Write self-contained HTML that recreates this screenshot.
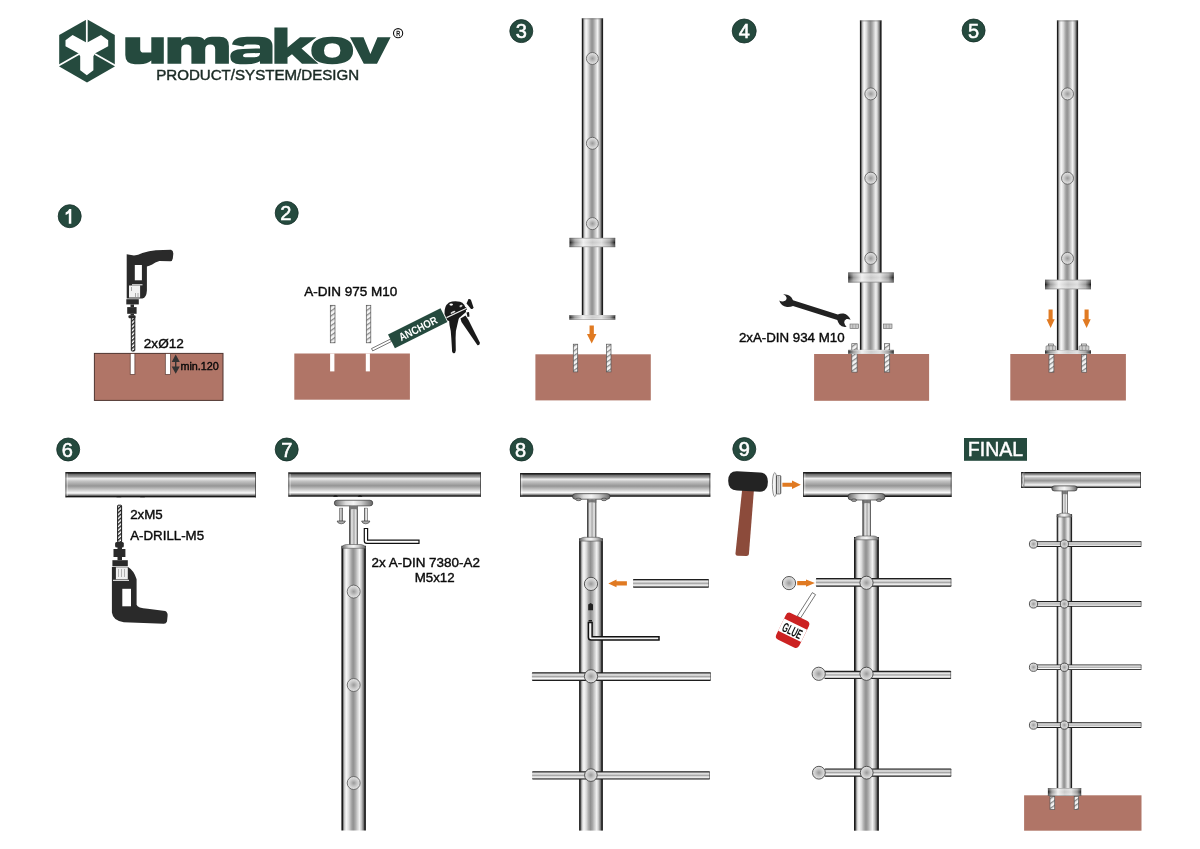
<!DOCTYPE html>
<html><head><meta charset="utf-8"><style>
html,body{margin:0;padding:0;background:#fff;width:1200px;height:849px;overflow:hidden}
svg{display:block;will-change:transform}
text{font-family:"Liberation Sans", sans-serif}
</style></head><body>
<svg width="1200" height="849" viewBox="0 0 1200 849" font-family='"Liberation Sans", sans-serif'>
<defs>
<linearGradient id="gv" x1="0" y1="0" x2="1" y2="0">
<stop offset="0" stop-color="#1a1a1a"/><stop offset="0.045" stop-color="#1a1a1a"/><stop offset="0.075" stop-color="#777"/>
<stop offset="0.13" stop-color="#d0d0d0"/><stop offset="0.2" stop-color="#f8f8f8"/><stop offset="0.3" stop-color="#dcdcdc"/>
<stop offset="0.4" stop-color="#aaa"/><stop offset="0.48" stop-color="#909090"/><stop offset="0.56" stop-color="#a6a6a6"/>
<stop offset="0.66" stop-color="#d2d2d2"/><stop offset="0.74" stop-color="#f2f2f2"/><stop offset="0.82" stop-color="#c4c4c4"/>
<stop offset="0.9" stop-color="#7a7a7a"/><stop offset="0.95" stop-color="#222"/><stop offset="1" stop-color="#1a1a1a"/>
</linearGradient>
<linearGradient id="gst" x1="0" y1="0" x2="1" y2="0">
<stop offset="0" stop-color="#333"/><stop offset="0.12" stop-color="#666"/><stop offset="0.3" stop-color="#eee"/>
<stop offset="0.55" stop-color="#aaa"/><stop offset="0.78" stop-color="#f0f0f0"/><stop offset="0.92" stop-color="#777"/><stop offset="1" stop-color="#333"/>
</linearGradient>
<linearGradient id="gh" x1="0" y1="0" x2="0" y2="1">
<stop offset="0" stop-color="#1a1a1a"/><stop offset="0.045" stop-color="#222"/><stop offset="0.1" stop-color="#707070"/>
<stop offset="0.18" stop-color="#9a9a9a"/><stop offset="0.26" stop-color="#eee"/><stop offset="0.36" stop-color="#c4c4c4"/>
<stop offset="0.55" stop-color="#959595"/><stop offset="0.71" stop-color="#cdcdcd"/><stop offset="0.83" stop-color="#fcfcfc"/>
<stop offset="0.91" stop-color="#888"/><stop offset="0.965" stop-color="#151515"/><stop offset="1" stop-color="#222"/>
</linearGradient>
<linearGradient id="gr" x1="0" y1="0" x2="0" y2="1">
<stop offset="0" stop-color="#1a1a1a"/><stop offset="0.09" stop-color="#222"/><stop offset="0.17" stop-color="#a0a0a0"/>
<stop offset="0.3" stop-color="#eee"/><stop offset="0.5" stop-color="#a4a4a4"/><stop offset="0.72" stop-color="#fafafa"/>
<stop offset="0.83" stop-color="#bbb"/><stop offset="0.91" stop-color="#222"/><stop offset="1" stop-color="#1a1a1a"/>
</linearGradient>
<linearGradient id="gf" x1="0" y1="0" x2="1" y2="0">
<stop offset="0" stop-color="#111"/><stop offset="0.04" stop-color="#444"/><stop offset="0.12" stop-color="#999"/>
<stop offset="0.3" stop-color="#eee"/><stop offset="0.5" stop-color="#c8c8c8"/><stop offset="0.7" stop-color="#ddd"/>
<stop offset="0.88" stop-color="#999"/><stop offset="0.96" stop-color="#444"/><stop offset="1" stop-color="#111"/>
</linearGradient>
<linearGradient id="gft" x1="0" y1="0" x2="0" y2="1">
<stop offset="0" stop-color="#555" stop-opacity="0.7"/><stop offset="0.15" stop-color="#fff" stop-opacity="0.3"/>
<stop offset="0.5" stop-color="#fff" stop-opacity="0"/><stop offset="0.85" stop-color="#fff" stop-opacity="0.3"/><stop offset="1" stop-color="#555" stop-opacity="0.7"/>
</linearGradient>
<linearGradient id="gsd" x1="0" y1="0" x2="1" y2="0">
<stop offset="0" stop-color="#666"/><stop offset="0.3" stop-color="#ddd"/><stop offset="0.5" stop-color="#f4f4f4"/>
<stop offset="0.7" stop-color="#ccc"/><stop offset="1" stop-color="#666"/>
</linearGradient>
<radialGradient id="gk" cx="0.5" cy="0.5" r="0.5">
<stop offset="0" stop-color="#999"/><stop offset="0.5" stop-color="#c4c4c4"/><stop offset="1" stop-color="#e6e6e6"/>
</radialGradient>
<pattern id="twist" patternUnits="userSpaceOnUse" width="3" height="3" patternTransform="rotate(-40)">
<rect width="3" height="3" fill="#fff"/><rect width="3" height="1.4" fill="#1a1a1a"/>
</pattern>
<pattern id="hatch" patternUnits="userSpaceOnUse" width="4" height="4" patternTransform="rotate(-35)">
<rect width="4" height="4" fill="#f4f4f4"/><rect width="4" height="1.3" fill="#8a8a8a"/>
</pattern>
</defs>
<rect width="1200" height="849" fill="#fff"/>

<g fill="#254a3e">
<polygon points="87,19.2 114.8,35 114.8,66.6 87,82.5 59.2,66.6 59.2,35"/>
</g>
<g fill="#fff">
<polygon points="72.6,35 65.5,40.2 65.5,46.3 78.3,53.3 80.2,56.2 80.2,70.3 86.8,75.2 93.4,70.3 93.4,56.2 95.3,53.3 108.2,46.3 108.2,40.2 101,35 86.8,42.8"/>
</g>
<g stroke="#fff" stroke-width="1.8">
<line x1="86.8" y1="17" x2="86.8" y2="43"/>
<line x1="57" y1="66.5" x2="79" y2="54"/>
<line x1="117" y1="66.5" x2="95" y2="54"/>
</g>
<g fill="#254a3e">
<path d="M125.3,37.2 H140.2 V49.5 Q140.2,52.6 143.5,52.6 H151.3 V37.2 H163.8 V63.8 H151.3 V60.5 Q147.5,64.2 139.5,64.2 H135 Q125.3,64.2 125.3,55 Z"/>
<path d="M167.5,63.8 V37.2 H181.25 V40.5 Q184,36.8 189,36.8 H197 Q202,36.8 204.5,40 Q207,36.8 212,36.8 H219.5 Q228.9,36.8 228.9,46 V63.8 H215.2 V49.5 Q215.2,44.4 210.2,44.4 Q205.2,44.4 205.2,49.5 V63.8 H191.4 V49.5 Q191.4,44.4 186.3,44.4 Q181.25,44.4 181.25,49.5 V63.8 Z"/>
<path d="M232,44.5 Q233.5,36.8 247,36.8 H259 Q272.5,36.8 272.5,46 V63.8 H260 V61.2 Q255.5,64.2 246,64.2 H240 Q230.3,64.2 230.3,56.5 Q230.3,49.2 243,49 L260,48.4 V46.8 Q260,44.4 255,44.4 H247 Q244,44.4 243.5,46.4 Z M243,56 Q243,57.3 247,57.3 H253 Q260,57.3 260,53.5 V53 L247.5,53.3 Q243,53.5 243,56 Z"/>
<path d="M274.4,27.6 H287.5 V47.5 L300,37.2 H316.5 L301.5,48.6 L318.5,63.8 H302 L292,54.3 L287.5,57.6 V63.8 H274.4 Z"/>
<path d="M332.2,36.8 Q311.3,36.8 311.3,50.5 Q311.3,64.2 332.2,64.2 Q353.1,64.2 353.1,50.5 Q353.1,36.8 332.2,36.8 Z M332.2,43.3 Q324,43.3 324,50.5 Q324,57.7 332.2,57.7 Q340.4,57.7 340.4,50.5 Q340.4,43.3 332.2,43.3 Z" fill-rule="evenodd"/>
<path d="M350,37.2 H363.5 L370.4,54 L377.5,37.2 H390.6 L377,63.8 H363.8 Z"/>
</g>
<circle cx="398.1" cy="33.2" r="4.6" fill="none" stroke="#111" stroke-width="1.1"/>
<text x="398.2" y="36.1" font-size="8" fill="#111" stroke="#111" stroke-width="0.35" text-anchor="middle" textLength="4" lengthAdjust="spacingAndGlyphs">R</text>
<text x="156.2" y="80.2" font-size="15" font-weight="normal" fill="#1a2a24" stroke="#1a2a24" stroke-width="0.45" text-anchor="start" textLength="203" lengthAdjust="spacingAndGlyphs">PRODUCT/SYSTEM/DESIGN</text>
<circle cx="69.7" cy="216.2" r="11.5" fill="#254a3e" stroke="#16302a" stroke-width="0.8"/>
<path d="M71.3,208.9 V223.8 H68.8 V213.3 Q67.4,214.4 65.6,214.9 V212.5 Q68.2,211.5 69.2,208.9 Z" fill="#fff"/>
<circle cx="286.7" cy="213" r="11.5" fill="#254a3e" stroke="#16302a" stroke-width="0.8"/>
<text x="285.9" y="220.1" font-size="20" fill="#fff" stroke="#fff" stroke-width="0.55" text-anchor="middle">2</text>
<circle cx="521.3" cy="31.1" r="11.5" fill="#254a3e" stroke="#16302a" stroke-width="0.8"/>
<text x="521.3" y="38.2" font-size="20" fill="#fff" stroke="#fff" stroke-width="0.55" text-anchor="middle">3</text>
<circle cx="744.2" cy="31" r="12" fill="#254a3e" stroke="#16302a" stroke-width="0.8"/>
<text x="744.2" y="38.1" font-size="20" fill="#fff" stroke="#fff" stroke-width="0.55" text-anchor="middle">4</text>
<circle cx="973.6" cy="30.5" r="11.5" fill="#254a3e" stroke="#16302a" stroke-width="0.8"/>
<text x="973.6" y="37.6" font-size="20" fill="#fff" stroke="#fff" stroke-width="0.55" text-anchor="middle">5</text>
<circle cx="68.2" cy="449.5" r="11.5" fill="#254a3e" stroke="#16302a" stroke-width="0.8"/>
<text x="67.2" y="456.6" font-size="20" fill="#fff" stroke="#fff" stroke-width="0.55" text-anchor="middle">6</text>
<circle cx="286.7" cy="449.5" r="11.5" fill="#254a3e" stroke="#16302a" stroke-width="0.8"/>
<text x="286.7" y="456.6" font-size="20" fill="#fff" stroke="#fff" stroke-width="0.55" text-anchor="middle">7</text>
<circle cx="521.5" cy="449.5" r="11.5" fill="#254a3e" stroke="#16302a" stroke-width="0.8"/>
<text x="520.5" y="456.6" font-size="20" fill="#fff" stroke="#fff" stroke-width="0.55" text-anchor="middle">8</text>
<circle cx="744.3" cy="449.1" r="11.5" fill="#254a3e" stroke="#16302a" stroke-width="0.8"/>
<text x="744.3" y="456.20000000000005" font-size="20" fill="#fff" stroke="#fff" stroke-width="0.55" text-anchor="middle">9</text>
<rect x="964" y="438" width="63" height="22.8" fill="#254a3e"/>
<text x="995.5" y="456.2" font-size="19.5" font-weight="normal" fill="#fff" stroke="#fff" stroke-width="0.45" text-anchor="middle" >FINAL</text>
<rect x="94.4" y="353.4" width="128.60" height="47.00" fill="#b07567" stroke="#4e3530" stroke-width="1"/>
<rect x="130.2" y="353.6" width="4.70" height="20.8" fill="#fff" stroke="#5a3a33" stroke-width="0.7"/>
<rect x="165.3" y="353.6" width="5.20" height="20.8" fill="#fff" stroke="#5a3a33" stroke-width="0.7"/>
<path d="M175.7,354.6 L179.8,362 H171.7 Z M175.7,373.8 L179.8,366.4 H171.7 Z" fill="#333"/>
<rect x="175" y="361" width="1.4" height="6.5" fill="#333"/>
<text x="180.4" y="369.8" font-size="10.8" font-weight="normal" fill="#0a0a0a" stroke="#0a0a0a" stroke-width="0.4" text-anchor="start" >min.120</text>
<text x="143.8" y="348" font-size="13.6" font-weight="normal" fill="#0a0a0a" stroke="#0a0a0a" stroke-width="0.4" text-anchor="start" >2xØ12</text>
<g fill="#2a2a2a">
<path d="M126.7,254.3 L134,255.5 Q138,255 142.4,253 Q149,251 155.8,250.3 L171,249.8 Q173.5,250.5 173.3,254 L172.8,258.5 Q172.3,261.5 170,261.2 L159.4,261 Q155,262 152.2,264.6 Q149,266 146.9,266.4 V290.6 Q146.5,297.7 142.4,298.6 H126.7 Z"/>
<rect x="126.3" y="299.2" width="12.5" height="5.2"/>
<rect x="130.5" y="304.4" width="3.5" height="2.7"/>
<rect x="127.2" y="307.1" width="9.4" height="6.7"/>
<rect x="130.5" y="313.8" width="3.5" height="1.8"/>
</g>
<rect x="134.8" y="265" width="7.1" height="15.3" fill="#fff"/>
<rect x="129" y="285.5" width="11.1" height="12" fill="#f2f2f2"/>
<rect x="132" y="284.3" width="10.5" height="1" fill="#fff"/>
<path d="M131.5,287 V291 M135.5,293 V297 M138,293 V297" stroke="#777" stroke-width="0.6"/>
<rect x="131.3" y="316.5" width="3.5" height="34.5" rx="0.8" fill="url(#twist)" stroke="#1a1a1a" stroke-width="1"/>
<rect x="128.5" y="315.3" width="7" height="3" rx="1" fill="#2a2a2a"/>
<rect x="294.3" y="353.5" width="115.60" height="46.20" fill="#b07567"/>
<rect x="330.1" y="353.5" width="4.30" height="17.9" fill="#fff"/>
<rect x="365.8" y="353.5" width="4.10" height="17.9" fill="#fff"/>
<rect x="330.3" y="305.3" width="4.70" height="37.50" fill="url(#hatch)" stroke="#555" stroke-width="0.7"/>
<rect x="366.3" y="305.3" width="4.50" height="37.50" fill="url(#hatch)" stroke="#555" stroke-width="0.7"/>
<text x="304.3" y="296" font-size="13.5" font-weight="normal" fill="#0a0a0a" stroke="#0a0a0a" stroke-width="0.4" text-anchor="start" >A-DIN 975 M10</text>
<g transform="translate(388,334.5) rotate(-26.6)">
<rect x="-21" y="5.2" width="21" height="2.6" fill="#fff" stroke="#333" stroke-width="0.6"/>
<rect x="0" y="0" width="58.7" height="15.4" fill="#254a3e"/>
<text x="29.5" y="12" font-size="11" font-weight="bold" fill="#fff" text-anchor="middle" textLength="41.5" lengthAdjust="spacingAndGlyphs">ANCHOR</text>
</g>
<g fill="#1a1a1a">
<path d="M444.5,314 Q444,306 449,302.5 Q454,300.5 460,301.8 Q465,303.5 465.8,309 L466,312 L458,319 Q452,322 447.5,320.5 Z"/>
<path d="M466.5,303.5 L468.5,299 Q470,298.5 471,300 L473.5,307.5 Q473,309.5 471,309 Z"/>
<path d="M449,319.5 L459,317.5 L457.5,324 Q455.5,330 455.6,338 L455.8,350.5 Q455.5,353.5 453.5,353.2 Q451.8,352.8 452,349.5 L451.3,338 Q451,330 449.5,325 Z"/>
<path d="M460.5,318.5 L465.5,315.5 L468.5,320 L479.8,342.5 Q480,345.5 477.5,345.2 L461.5,322 Z"/>
<path d="M466.5,312.5 L469,312 L469.5,316.5 L467.5,317 Z"/>
</g>
<ellipse cx="451.2" cy="304.6" rx="1.8" ry="1.1" fill="#fff"/>
<ellipse cx="453" cy="312.5" rx="2.6" ry="1.2" fill="#ddd" transform="rotate(-25 453 312.5)"/>
<ellipse cx="461" cy="306" rx="1.6" ry="1" fill="#ccc" transform="rotate(-25 461 306)"/>
<path d="M446.5,317.6 L466.5,308.2" stroke="#111" stroke-width="2.6"/>
<path d="M446.5,317.6 L466.5,308.2" stroke="#e8e8e8" stroke-width="1.2"/>
<rect x="581.8" y="18.3" width="21.30" height="296.70" fill="url(#gv)"/>
<rect x="581.8" y="18.3" width="21.3" height="1" fill="#666" opacity="0.6"/>
<circle cx="592.4" cy="58.5" r="6" fill="url(#gk)" stroke="#555" stroke-width="0.8"/>
<circle cx="592.4" cy="143.3" r="6" fill="url(#gk)" stroke="#555" stroke-width="0.8"/>
<circle cx="592.4" cy="223.6" r="6" fill="url(#gk)" stroke="#555" stroke-width="0.8"/>
<rect x="569.5" y="237.9" width="45.70" height="9.20" fill="url(#gf)"/>
<rect x="569.5" y="237.9" width="45.70" height="9.20" fill="url(#gft)"/>
<rect x="569.3" y="315" width="46.00" height="4.50" fill="url(#gf)"/>
<rect x="569.3" y="315" width="46.00" height="4.50" fill="url(#gft)"/>
<path d="M589.5500000000001,325.5 H593.85 V334 H596.45 L591.7,343.5 L586.95,334 H589.5500000000001 Z" fill="#e07a22"/>
<rect x="535.4" y="354.3" width="115.40" height="46.10" fill="#b07567"/>
<rect x="573.3" y="344.2" width="4.40" height="27.70" fill="url(#hatch)" stroke="#555" stroke-width="0.7"/>
<rect x="606.5" y="344.2" width="4.50" height="27.70" fill="url(#hatch)" stroke="#555" stroke-width="0.7"/>
<rect x="859.9" y="20.4" width="21.70" height="329.50" fill="url(#gv)"/>
<rect x="859.9" y="20.4" width="21.7" height="1" fill="#666" opacity="0.6"/>
<circle cx="870.8" cy="93.9" r="6" fill="url(#gk)" stroke="#555" stroke-width="0.8"/>
<circle cx="870.8" cy="178.2" r="6" fill="url(#gk)" stroke="#555" stroke-width="0.8"/>
<circle cx="870.8" cy="258.4" r="6" fill="url(#gk)" stroke="#555" stroke-width="0.8"/>
<rect x="848.2" y="272.6" width="45.60" height="9.80" fill="url(#gf)"/>
<rect x="848.2" y="272.6" width="45.60" height="9.80" fill="url(#gft)"/>
<rect x="814.1" y="354" width="115.00" height="46.80" fill="#b07567"/>
<rect x="851.8" y="343.7" width="5.30" height="28.40" fill="url(#hatch)" stroke="#555" stroke-width="0.7"/>
<rect x="884.4" y="343.7" width="5.30" height="28.40" fill="url(#hatch)" stroke="#555" stroke-width="0.7"/>
<rect x="848.2" y="349.9" width="45.60" height="4.10" fill="url(#gf)"/>
<rect x="848.2" y="349.9" width="45.60" height="4.10" fill="url(#gft)"/>
<rect x="850" y="324" width="8.6" height="4.6" fill="#ccc" stroke="#666" stroke-width="0.6"/>
<path d="M852.8,324.3 V328.3 M855.8,324.3 V328.3" stroke="#888" stroke-width="0.6"/>
<rect x="883.4" y="324" width="8.6" height="4.6" fill="#ccc" stroke="#666" stroke-width="0.6"/>
<path d="M886.1999999999999,324.3 V328.3 M889.1999999999999,324.3 V328.3" stroke="#888" stroke-width="0.6"/>
<text x="738.9" y="341.8" font-size="13.3" font-weight="normal" fill="#0a0a0a" stroke="#0a0a0a" stroke-width="0.4" text-anchor="start" >2xA-DIN 934 M10</text>
<path d="M783.2,294.3 Q788.5,294.2 791.5,297.5 L793,300.3 L837.8,314.6 Q840.5,313.2 843.6,313.6 Q848.5,314.8 850.6,319.8 Q848.5,318.6 846.5,319 Q844,320 844.2,322.5 Q844.6,325 846.6,326.8 Q841.8,327.5 839.5,324.5 Q838,322.5 837.3,319.9 L793,305.9 Q790.5,307.2 787,307 Q781,306.3 779.2,300.6 Q781.5,301.8 783.8,301.3 Q786.8,300.3 786.6,297.8 Q786.2,295.5 783.2,294.3 Z" fill="#222"/>
<rect x="1056.9" y="20.4" width="21.20" height="329.80" fill="url(#gv)"/>
<rect x="1056.9" y="20.4" width="21.2" height="1" fill="#666" opacity="0.6"/>
<circle cx="1067.5" cy="93.9" r="6" fill="url(#gk)" stroke="#555" stroke-width="0.8"/>
<circle cx="1067.5" cy="178.2" r="6" fill="url(#gk)" stroke="#555" stroke-width="0.8"/>
<circle cx="1067.5" cy="258.4" r="6" fill="url(#gk)" stroke="#555" stroke-width="0.8"/>
<rect x="1045" y="279.8" width="46.00" height="9.40" fill="url(#gf)"/>
<rect x="1045" y="279.8" width="46.00" height="9.40" fill="url(#gft)"/>
<path d="M1048.55,309.5 H1052.6499999999999 V319.2 H1054.6999999999998 L1050.6,328 L1046.5,319.2 H1048.55 Z" fill="#e07a22"/>
<path d="M1084.55,309.5 H1088.6499999999999 V319.2 H1090.6999999999998 L1086.6,328 L1082.5,319.2 H1084.55 Z" fill="#e07a22"/>
<rect x="1010.3" y="354" width="115.60" height="46.50" fill="#b07567"/>
<rect x="1045" y="350.2" width="46.00" height="3.80" fill="url(#gf)"/>
<rect x="1045" y="350.2" width="46.00" height="3.80" fill="url(#gft)"/>
<rect x="1049" y="354.6" width="4.90" height="17.60" fill="url(#hatch)" stroke="#555" stroke-width="0.7"/>
<rect x="1081.7" y="354.6" width="4.90" height="17.60" fill="url(#hatch)" stroke="#555" stroke-width="0.7"/>
<rect x="1048.4" y="344" width="5" height="2" fill="#eee" stroke="#444" stroke-width="0.6"/>
<rect x="1046.0" y="345.8" width="9.8" height="4.6" rx="1" fill="#cfcfcf" stroke="#666" stroke-width="0.6"/>
<path d="M1049.1000000000001,346 V350.2 M1052.7,346 V350.2" stroke="#777" stroke-width="0.6"/>
<rect x="1081.5" y="344" width="5" height="2" fill="#eee" stroke="#444" stroke-width="0.6"/>
<rect x="1079.1" y="345.8" width="9.8" height="4.6" rx="1" fill="#cfcfcf" stroke="#666" stroke-width="0.6"/>
<path d="M1082.2,346 V350.2 M1085.8,346 V350.2" stroke="#777" stroke-width="0.6"/>
<rect x="65.5" y="472" width="190.40" height="25.40" fill="url(#gh)"/>
<rect x="65.5" y="472" width="0.9" height="25.40" fill="#333" opacity="0.8"/>
<rect x="66.4" y="473.5" width="1.6" height="22.40" fill="#fff" opacity="0.35"/>
<rect x="255.0" y="472" width="0.9" height="25.40" fill="#333" opacity="0.8"/>
<path d="M116.4,497.3 Q118.9,494.5 121.4,497.3 Z" fill="#111"/>
<path d="M140.0,497.3 Q142.5,494.5 145.0,497.3 Z" fill="#111"/>
<text x="130.2" y="518.8" font-size="13.3" font-weight="normal" fill="#0a0a0a" stroke="#0a0a0a" stroke-width="0.4" text-anchor="start" >2xM5</text>
<text x="130.2" y="540.3" font-size="13.3" font-weight="normal" fill="#0a0a0a" stroke="#0a0a0a" stroke-width="0.4" text-anchor="start" >A-DRILL-M5</text>
<rect x="117.6" y="505.2" width="4" height="37" rx="0.8" fill="url(#twist)" stroke="#1a1a1a" stroke-width="1"/>
<g fill="#2a2a2a">
<rect x="115.1" y="541.9" width="8.7" height="5.6" rx="1.5"/>
<rect x="117.5" y="547" width="4.5" height="2.5"/>
<rect x="113.5" y="549" width="11.9" height="8"/>
<rect x="117.5" y="557" width="4.5" height="3.2"/>
<rect x="112.4" y="560.2" width="15.4" height="6.1"/>
<path d="M111.9,567 H128 Q134,570.5 136.6,579.3 V604.7 Q137.5,608 147.7,608.7 L165.2,611 Q168,612.5 167.6,615.8 L167,621.5 Q166,624 163.6,623.8 L123.8,622.2 Q113,621 111.9,612.6 Z"/>
</g>
<rect x="122.3" y="588.8" width="8.7" height="17.5" fill="#fff"/>
<rect x="115.9" y="567.3" width="11.9" height="12" fill="#f0f0f0"/>
<rect x="113" y="579.8" width="16" height="1" fill="#fff"/>
<path d="M118.5,569 V577 M121.5,569 V577 M124.5,569 V577" stroke="#888" stroke-width="0.6"/>
<rect x="288.4" y="472.3" width="192.50" height="24.45" fill="url(#gh)"/>
<rect x="288.4" y="472.3" width="0.9" height="24.45" fill="#333" opacity="0.8"/>
<rect x="289.29999999999995" y="473.8" width="1.6" height="21.45" fill="#fff" opacity="0.35"/>
<rect x="480.0" y="472.3" width="0.9" height="24.45" fill="#333" opacity="0.8"/>
<path d="M333.0,496.7 Q335.5,494 338.0,496.7 Z" fill="#111"/>
<path d="M357.5,496.7 Q360,494 362.5,496.7 Z" fill="#111"/>
<rect x="334.3" y="500.25" width="38.45" height="5.60" rx="2.80" fill="url(#gsd)" stroke="#333" stroke-width="0.7"/>
<rect x="349.1" y="505.9" width="8.80" height="39.85" fill="url(#gst)"/>
<path d="M349.1,505.9 H357.9 V509.4 Q353.5,508.5 349.1,509.4 Z" fill="#6a6a6a" opacity="0.85"/>
<rect x="341.4" y="545.75" width="24.50" height="284.75" fill="url(#gv)"/>
<path d="M341.7,548.3 Q341.9,545.1 346.4,544.5 H360.9 Q365.4,545.1 365.59999999999997,548.3 Z" fill="url(#gsd)" stroke="#555" stroke-width="0.6"/>
<circle cx="353.7" cy="591.6" r="6.5" fill="url(#gk)" stroke="#555" stroke-width="0.8"/>
<circle cx="353.7" cy="685" r="6.5" fill="url(#gk)" stroke="#555" stroke-width="0.8"/>
<circle cx="353.7" cy="783" r="6.5" fill="url(#gk)" stroke="#555" stroke-width="0.8"/>
<rect x="339.75" y="508.1" width="3" height="13" fill="url(#gst)" stroke="#555" stroke-width="0.5"/>
<path d="M337.05,521 H345.45 Q344.75,523.8 341.25,523.8 Q337.75,523.8 337.05,521 Z" fill="#aaa" stroke="#333" stroke-width="0.6"/>
<rect x="364.25" y="508.1" width="3" height="13" fill="url(#gst)" stroke="#555" stroke-width="0.5"/>
<path d="M361.55,521 H369.95 Q369.25,523.8 365.75,523.8 Q362.25,523.8 361.55,521 Z" fill="#aaa" stroke="#333" stroke-width="0.6"/>
<path d="M349.3,505.9 H357.9 V509.5 Q356,508.6 353.6,508.6 Q351.2,508.6 349.3,509.5 Z" fill="#777"/>
<path d="M364.3,528.5 H367.6 V540.1 H419 V543.4 H366.8 Q364.3,543.4 364.3,541 Z" fill="#fff" stroke="#111" stroke-width="1.2"/>
<text x="371.6" y="566.75" font-size="13.45" font-weight="normal" fill="#0a0a0a" stroke="#0a0a0a" stroke-width="0.4" text-anchor="start" >2x A-DIN 7380-A2</text>
<text x="414.75" y="581.6" font-size="13.3" font-weight="normal" fill="#0a0a0a" stroke="#0a0a0a" stroke-width="0.4" text-anchor="start" >M5x12</text>
<rect x="520" y="473" width="190.30" height="23.80" fill="url(#gh)"/>
<rect x="520" y="473" width="0.9" height="23.80" fill="#333" opacity="0.8"/>
<rect x="520.9" y="474.5" width="1.6" height="20.80" fill="#fff" opacity="0.35"/>
<rect x="709.4" y="473" width="0.9" height="23.80" fill="#333" opacity="0.8"/>
<rect x="572.5" y="493.7" width="37.50" height="5.50" rx="2.75" fill="url(#gsd)" stroke="#333" stroke-width="0.7"/>
<ellipse cx="578.5" cy="499.4" rx="2.7" ry="1.3" fill="#999" stroke="#333" stroke-width="0.6"/>
<ellipse cx="604" cy="499.4" rx="2.7" ry="1.3" fill="#999" stroke="#333" stroke-width="0.6"/>
<rect x="587" y="499.2" width="9.30" height="39.10" fill="url(#gst)"/>
<path d="M587,499.2 H596.3 V502.7 Q591.65,501.8 587,502.7 Z" fill="#6a6a6a" opacity="0.85"/>
<rect x="579.1" y="538.3" width="23.80" height="292.30" fill="url(#gv)"/>
<path d="M579.4,541.0999999999999 Q579.6,537.9 584.1,537.3 H597.9 Q602.4,537.9 602.6,541.0999999999999 Z" fill="url(#gsd)" stroke="#555" stroke-width="0.6"/>
<circle cx="591" cy="583.9" r="6.6" fill="url(#gk)" stroke="#444" stroke-width="0.9"/>
<path d="M626.9,581.3 H616.5 V579.55 L608.3,583.4 L616.5,587.25 V585.5 H626.9 Z" fill="#e07a22"/>
<rect x="633" y="579" width="75.90" height="8.70" rx="0.8" fill="url(#gr)"/>
<rect x="708.1" y="579.5" width="0.8" height="7.70" fill="#444" opacity="0.7"/>
<path d="M588.2,610.3 V604.5 L590.6,602.9 L593,604.5 V610.3 Z" fill="#222"/>
<path d="M588.4,622.6 H592.1 V636.7 H659 V640.1 H591.2 Q588.4,640.1 588.4,637.3 Z" fill="#f2f2f2" stroke="#111" stroke-width="1.5"/>
<rect x="588.6" y="620.1" width="3.4" height="1.3" fill="#111"/>
<rect x="531.9" y="672.2" width="179.00" height="8.70" rx="0.8" fill="url(#gr)"/>
<rect x="710.1" y="672.7" width="0.8" height="7.70" fill="#444" opacity="0.7"/>
<circle cx="591" cy="676.3" r="6.6" fill="url(#gk)" stroke="#444" stroke-width="0.9"/>
<rect x="532.1" y="771.2" width="177.80" height="8.40" rx="0.8" fill="url(#gr)"/>
<rect x="709.1" y="771.7" width="0.8" height="7.40" fill="#444" opacity="0.7"/>
<circle cx="590.9" cy="775.1" r="6.3" fill="url(#gk)" stroke="#444" stroke-width="0.9"/>
<rect x="803" y="472" width="148.60" height="25.00" fill="url(#gh)"/>
<rect x="803" y="472" width="0.9" height="25.00" fill="#333" opacity="0.8"/>
<rect x="803.9" y="473.5" width="1.6" height="22.00" fill="#fff" opacity="0.35"/>
<rect x="950.7" y="472" width="0.9" height="25.00" fill="#333" opacity="0.8"/>
<rect x="848" y="493.6" width="37.00" height="6.40" rx="3.20" fill="url(#gsd)" stroke="#333" stroke-width="0.7"/>
<ellipse cx="854" cy="500.2" rx="2.7" ry="1.3" fill="#999" stroke="#333" stroke-width="0.6"/>
<ellipse cx="879" cy="500.2" rx="2.7" ry="1.3" fill="#999" stroke="#333" stroke-width="0.6"/>
<rect x="862.4" y="500" width="8.60" height="37.00" fill="url(#gst)"/>
<path d="M862.4,500 H871 V503.5 Q866.7,502.6 862.4,503.5 Z" fill="#6a6a6a" opacity="0.85"/>
<rect x="854" y="537" width="24.90" height="293.70" fill="url(#gv)"/>
<path d="M854.3,539.8 Q854.5,536.6 859,536 H873.9 Q878.4,536.6 878.6,539.8 Z" fill="url(#gsd)" stroke="#555" stroke-width="0.6"/>
<path d="M742.1,490 L753.9,490.5 L748.9,554.3 Q748.6,556 746.5,556 L737.5,555.8 Q735.3,555.5 735.5,553.3 Z" fill="#8c4b3b"/>
<path d="M737,471.2 L760,472.4 Q768,472.9 767.9,481.8 Q767.8,491.6 760,491.8 L737,490.6 Q728,490 728.2,480.6 Q728.4,471 737,471.2 Z" fill="#232323"/>
<ellipse cx="774.8" cy="484.6" rx="2.4" ry="12" fill="#f4f4f4" stroke="#777" stroke-width="0.8"/>
<rect x="776.3" y="475.5" width="4.6" height="18.5" rx="1" fill="url(#gst)" stroke="#444" stroke-width="0.6"/>
<path d="M782.4,482.85 H792 V480.6 L800.8,484.8 L792,489.0 V486.75 H782.4 Z" fill="#e07a22"/>
<rect x="815.9" y="578.1" width="135.50" height="8.60" rx="0.8" fill="url(#gr)"/>
<rect x="950.6" y="578.6" width="0.8" height="7.60" fill="#444" opacity="0.7"/>
<circle cx="866.5" cy="582.8" r="6.6" fill="url(#gk)" stroke="#444" stroke-width="0.9"/>
<circle cx="789" cy="583.1" r="6.6" fill="url(#gk)" stroke="#444" stroke-width="0.9"/>
<path d="M797.2,581.0 H806 V579.4 L814.9,583.1 L806,586.8000000000001 V585.2 H797.2 Z" fill="#e07a22"/>
<g transform="translate(792.6,630.3) rotate(26)">
<path d="M-2,-14.6 L1.2,-42.5 L5,-42.1 L1.8,-14.6 Z" fill="#fff" stroke="#333" stroke-width="0.6"/>
<rect x="-12.8" y="-14.8" width="25.6" height="29.6" rx="4" fill="#cc2222"/>
<rect x="-12.8" y="-6.8" width="25.6" height="13.6" fill="#fff"/>
<text x="0" y="5.2" font-size="13.5" font-weight="bold" fill="#111" text-anchor="middle" textLength="20.5" lengthAdjust="spacingAndGlyphs">GLUE</text>
</g>
<rect x="824.4" y="670.8" width="126.70" height="8.30" rx="0.8" fill="url(#gr)"/>
<rect x="950.3000000000001" y="671.3" width="0.8" height="7.30" fill="#444" opacity="0.7"/>
<circle cx="818.7" cy="673.8" r="6.6" fill="url(#gk)" stroke="#444" stroke-width="0.9"/>
<circle cx="866.5" cy="673.8" r="6.6" fill="url(#gk)" stroke="#444" stroke-width="0.9"/>
<rect x="824.7" y="768.4" width="126.60" height="8.30" rx="0.8" fill="url(#gr)"/>
<rect x="950.5" y="768.9" width="0.8" height="7.30" fill="#444" opacity="0.7"/>
<circle cx="818.9" cy="772.7" r="6.4" fill="url(#gk)" stroke="#444" stroke-width="0.9"/>
<circle cx="866.7" cy="772.7" r="6.4" fill="url(#gk)" stroke="#444" stroke-width="0.9"/>
<rect x="1021" y="472" width="120.00" height="15.90" fill="url(#gh)"/>
<rect x="1021" y="472" width="0.9" height="15.90" fill="#333" opacity="0.8"/>
<rect x="1021.9" y="473.5" width="1.6" height="12.90" fill="#fff" opacity="0.35"/>
<rect x="1140.1" y="472" width="0.9" height="15.90" fill="#333" opacity="0.8"/>
<path d="M1024,472.5 Q1020.5,480 1024,487.5 Z" fill="#fff" stroke="#777" stroke-width="0.7"/>
<rect x="1051.8" y="485.9" width="25.30" height="5.00" rx="2.50" fill="url(#gsd)" stroke="#333" stroke-width="0.7"/>
<rect x="1061.8" y="490.9" width="6.10" height="23.30" fill="url(#gst)"/>
<path d="M1061.8,490.9 H1067.9 V494.4 Q1064.85,493.5 1061.8,494.4 Z" fill="#6a6a6a" opacity="0.85"/>
<rect x="1056.7" y="514.2" width="15.40" height="274.10" fill="url(#gv)"/>
<path d="M1057.0,517.0 Q1057.2,513.8000000000001 1061.7,513.2 H1067.1 Q1071.6,513.8000000000001 1071.8,517.0 Z" fill="url(#gsd)" stroke="#555" stroke-width="0.6"/>
<rect x="1036.4" y="541.2" width="105.10" height="5.70" rx="0.8" fill="url(#gr)"/>
<rect x="1140.7" y="541.7" width="0.8" height="4.70" fill="#444" opacity="0.7"/>
<circle cx="1033.5" cy="544.05" r="4.1" fill="url(#gk)" stroke="#444" stroke-width="0.9"/>
<circle cx="1064.4" cy="544.05" r="4.1" fill="url(#gk)" stroke="#444" stroke-width="0.9"/>
<rect x="1036.4" y="601.1" width="105.10" height="5.70" rx="0.8" fill="url(#gr)"/>
<rect x="1140.7" y="601.6" width="0.8" height="4.70" fill="#444" opacity="0.7"/>
<circle cx="1033.5" cy="603.95" r="4.1" fill="url(#gk)" stroke="#444" stroke-width="0.9"/>
<circle cx="1064.4" cy="603.95" r="4.1" fill="url(#gk)" stroke="#444" stroke-width="0.9"/>
<rect x="1036.4" y="664.4" width="105.10" height="5.70" rx="0.8" fill="url(#gr)"/>
<rect x="1140.7" y="664.9" width="0.8" height="4.70" fill="#444" opacity="0.7"/>
<circle cx="1033.5" cy="667.25" r="4.1" fill="url(#gk)" stroke="#444" stroke-width="0.9"/>
<circle cx="1064.4" cy="667.25" r="4.1" fill="url(#gk)" stroke="#444" stroke-width="0.9"/>
<rect x="1036.4" y="722.3" width="105.10" height="5.60" rx="0.8" fill="url(#gr)"/>
<rect x="1140.7" y="722.8" width="0.8" height="4.60" fill="#444" opacity="0.7"/>
<circle cx="1033.5" cy="725.0999999999999" r="4.1" fill="url(#gk)" stroke="#444" stroke-width="0.9"/>
<circle cx="1064.4" cy="725.0999999999999" r="4.1" fill="url(#gk)" stroke="#444" stroke-width="0.9"/>
<rect x="1024.1" y="795.3" width="117.40" height="35.40" fill="#b07567"/>
<rect x="1047.9" y="788" width="33.30" height="7.90" fill="url(#gf)"/>
<rect x="1047.9" y="788" width="33.30" height="7.90" fill="url(#gft)"/>
<rect x="1050" y="796.3" width="4.70" height="13.20" fill="url(#hatch)" stroke="#555" stroke-width="0.7"/>
<rect x="1074.2" y="796.3" width="4.40" height="13.20" fill="url(#hatch)" stroke="#555" stroke-width="0.7"/>
</svg>
</body></html>
